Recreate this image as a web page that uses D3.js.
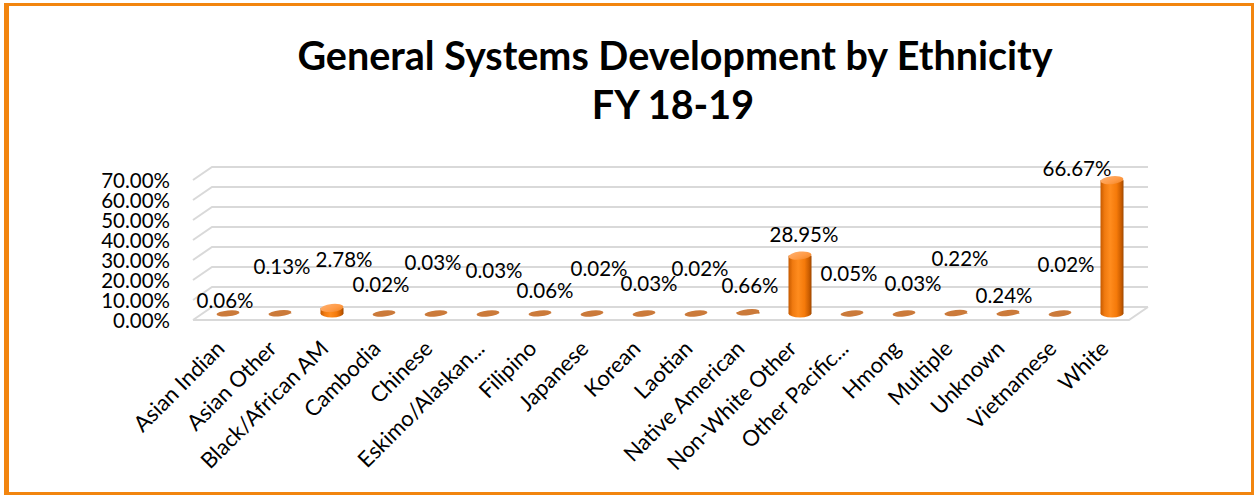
<!DOCTYPE html>
<html>
<head>
<meta charset="utf-8">
<script src="https://cdn.jsdelivr.net/npm/d3@7"></script>
<style>
  html, body { margin: 0; padding: 0; background: #fff; }
  svg { display: block; font-family: Lato, "Open Sans", "Liberation Sans", sans-serif; }
</style>
</head>
<body>
<svg id="chart" width="1255" height="495"></svg>
<script>
// Share of clients by ethnicity, in percent
const categories = [
  "Asian Indian", "Asian Other", "Black/African AM", "Cambodia", "Chinese",
  "Eskimo/Alaskan...", "Filipino", "Japanese", "Korean", "Laotian",
  "Native American", "Non-White Other", "Other Pacific...", "Hmong",
  "Multiple", "Unknown", "Vietnamese", "White"
];
const values = [
  0.06, 0.13, 2.78, 0.02, 0.03,
  0.03, 0.06, 0.02, 0.03, 0.02,
  0.66, 28.95, 0.05, 0.03,
  0.22, 0.24, 0.02, 66.67
];
const yTicks = [0, 10, 20, 30, 40, 50, 60, 70];
const titleLines = ["General Systems Development by Ethnicity", "FY 18-19"];

// Where each value label sits relative to the top of its column (px)
const labelNudge = [
  [-3, -13], [2, -46], [12, -48], [-3, -29], [-3, -51],
  [6, -43], [5, -23], [7, -45], [5, -30], [4, -45],
  [2, -26], [4, -21], [-3, -40], [9, -30],
  [4, -54], [-4, -17], [6, -49], [-35, -11]
];

const svg = d3.select("#chart");

// Oblique depth of the 3-D box: front edge sits this far from the back wall
const depth = { dx: -19, dy: 13 };

// Back-wall value scale
const y = d3.scaleLinear().domain([0, 70]).range([307, 167]);
// Category centres at mid depth
const x = d3.scaleBand().domain(categories).range([202, 1138]);

const fmt = v => v.toFixed(2) + "%";
const fontSize = 20.5;

// Outer frame
svg.append("rect")
  .attr("x", 5.5).attr("y", 4.5)
  .attr("width", 1247).attr("height", 489)
  .attr("fill", "none").attr("stroke", "#F2850F").attr("stroke-width", 3);
svg.append("rect")
  .attr("x", 4).attr("y", 3).attr("width", 5).attr("height", 492)
  .attr("fill", "#F2850F");

// Title
const title = svg.append("text")
  .attr("text-anchor", "middle")
  .attr("font-weight", "bold")
  .attr("font-size", 39.5)
  .attr("fill", "#000");
title.append("tspan").attr("x", 675).attr("y", 70).text(titleLines[0]);
title.append("tspan").attr("x", 673).attr("y", 119).text(titleLines[1]);

// Gridlines: back wall + side-wall diagonal
const backLeft = x.range()[0] + 10, backRight = x.range()[1] + 10;
const grid = svg.append("g").attr("stroke", "#D9D9D9").attr("stroke-width", 2).attr("fill", "none");
yTicks.forEach(t => {
  grid.append("path")
    .attr("d", `M${backLeft + depth.dx},${y(t) + depth.dy}L${backLeft},${y(t)}L${backRight},${y(t)}`);
});
// Floor front edge and right edge
grid.append("path")
  .attr("d", `M${backLeft + depth.dx},${y(0) + depth.dy}L${backRight + depth.dx},${y(0) + depth.dy}L${backRight},${y(0)}`);

// Y-axis tick labels
svg.append("g").selectAll("text").data(yTicks).join("text")
  .attr("x", 170)
  .attr("y", t => y(t) + depth.dy + 1)
  .attr("dy", "0.35em")
  .attr("text-anchor", "end")
  .attr("font-size", fontSize)
  .attr("fill", "#000")
  .text(t => fmt(t));

// Gradients for the cylinders
const defs = svg.append("defs");
const body = defs.append("linearGradient").attr("id", "cylBody").attr("x1", "0").attr("x2", "1").attr("y1", "0").attr("y2", "0");
[[0, "#C65A00"], [0.18, "#F07A10"], [0.42, "#FF8C1E"], [0.7, "#F57A0A"], [0.9, "#C95C00"], [1, "#9E4800"]]
  .forEach(([o, c]) => body.append("stop").attr("offset", o).attr("stop-color", c));
const cap = defs.append("linearGradient").attr("id", "cylCap").attr("x1", "0").attr("x2", "1").attr("y1", "0").attr("y2", "1");
[[0, "#FFB070"], [0.6, "#FF9A45"], [1, "#F08424"]]
  .forEach(([o, c]) => cap.append("stop").attr("offset", o).attr("stop-color", c));

// Columns at mid depth
const midX = d => x(d.cat) + x.bandwidth() / 2;
const midY = v => y(v) + depth.dy / 2;
const rx = 11.5, ry = 4;
const data = categories.map((cat, i) => ({ cat, v: values[i], i }));
const flat = d => (midY(0) - midY(d.v)) < 2;

const bars = svg.append("g").selectAll("g").data(data).join("g");
bars.filter(d => !flat(d)).append("ellipse")
  .attr("cx", midX).attr("cy", d => midY(0))
  .attr("rx", rx).attr("ry", ry)
  .attr("fill", "url(#cylBody)");
bars.append("rect")
  .attr("x", d => midX(d) - rx)
  .attr("y", d => midY(d.v))
  .attr("width", rx * 2)
  .attr("height", d => midY(0) - midY(d.v))
  .attr("fill", "url(#cylBody)");
bars.append("ellipse")
  .attr("cx", midX).attr("cy", d => midY(d.v))
  .attr("rx", rx).attr("ry", d => flat(d) ? 3 : ry)
  .attr("transform", d => `rotate(-6 ${midX(d)} ${midY(d.v)})`)
  .attr("fill", d => flat(d) ? "#CB7A3A" : "url(#cylCap)");

// Value labels
svg.append("g").selectAll("text").data(data).join("text")
  .attr("x", d => midX(d) + labelNudge[d.i][0])
  .attr("y", d => midY(d.v) + labelNudge[d.i][1])
  .attr("dy", "0.35em")
  .attr("text-anchor", "middle")
  .attr("font-size", fontSize)
  .attr("fill", "#000")
  .text(d => fmt(d.v));

// Category labels, rotated
svg.append("g").selectAll("text").data(categories).join("text")
  .attr("text-anchor", "end")
  .attr("font-size", 22)
  .attr("fill", "#000")
  .attr("transform", c => `translate(${x(c) + x.bandwidth() / 2 - 2},${350}) rotate(-45)`)
  .text(c => c);
</script>
</body>
</html>
